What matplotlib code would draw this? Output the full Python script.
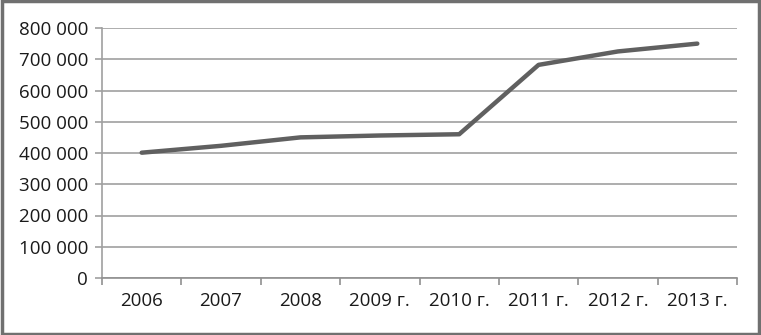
import numpy as np
import matplotlib.pyplot as plt
from matplotlib.ticker import FuncFormatter, FixedLocator

years = ["2006", "2007", "2008", "2009 г.", "2010 г.", "2011 г.", "2012 г.", "2013 г."]
values = [401000, 423000, 450000, 456000, 460000, 682000, 725000, 750000]

plt.rcParams['font.family'] = ['Open Sans', 'DejaVu Sans']

fig = plt.figure(figsize=(7.61, 3.35), dpi=100)
ax = fig.add_axes([102 / 761, 1 - 278 / 335, (737 - 102) / 761, (278 - 28) / 335])

x = np.arange(len(years))
ax.plot(x, values, color='#606060', linewidth=3.2, solid_capstyle='round', zorder=3)

ax.set_xlim(-0.5, len(years) - 0.5)
ax.set_ylim(0, 800000)
ax.set_yticks(np.arange(0, 800001, 100000))
ax.yaxis.set_major_formatter(FuncFormatter(lambda v, p: f"{int(v):,}".replace(",", " ")))
ax.yaxis.grid(True, color='#a0a0a0', linewidth=1.2)
ax.set_axisbelow(True)

ax.set_xticks(x)
ax.set_xticklabels(years)
ax.xaxis.set_minor_locator(FixedLocator(np.arange(-0.5, len(years), 1)))
ax.tick_params(axis='x', which='major', length=0, pad=10, labelsize=13.5, colors='#1a1a1a')
ax.tick_params(axis='x', which='minor', length=5, color='#909090', width=1.2, direction='out')
ax.tick_params(axis='y', length=5, color='#a0a0a0', width=1.2, pad=5, labelsize=13.5, colors='#1a1a1a')

for s in ['top', 'right']:
    ax.spines[s].set_visible(False)
ax.spines['left'].set_color('#a0a0a0')
ax.spines['bottom'].set_color('#909090')
ax.spines['left'].set_linewidth(1.2)
ax.spines['bottom'].set_linewidth(1.2)

border = plt.Rectangle((0.002, 0.004), 0.996, 0.992, transform=fig.transFigure,
                       fill=False, edgecolor='#707070', linewidth=2.5)
fig.patches.append(border)

fig.savefig("out.png", dpi=100)
